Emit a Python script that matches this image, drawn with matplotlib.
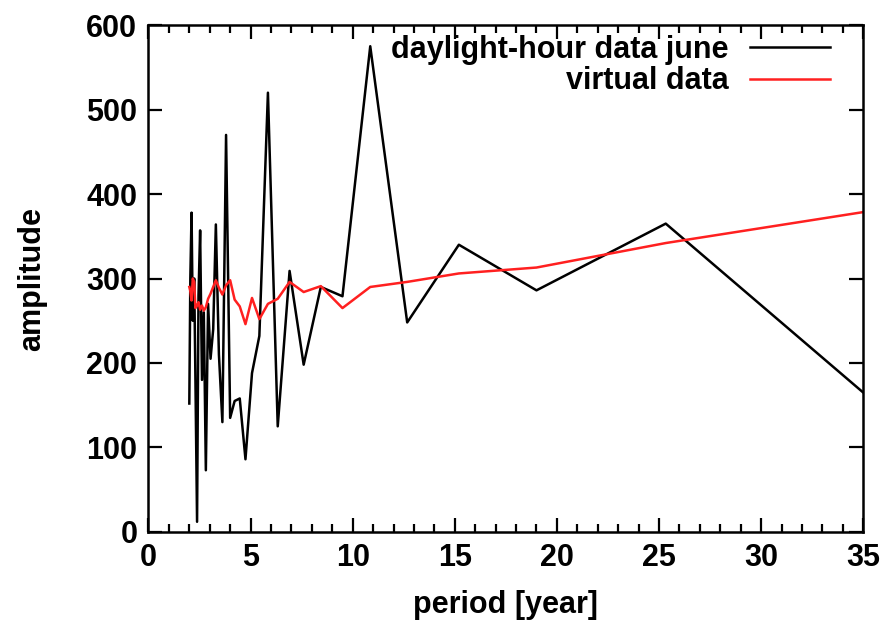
import matplotlib.pyplot as plt
from matplotlib.ticker import MultipleLocator

plt.rcParams['font.family'] = ['Liberation Sans', 'DejaVu Sans']
plt.rcParams['font.weight'] = 'bold'

# periods (years)
period = [2.00, 2.05, 2.11, 2.17, 2.24, 2.30, 2.38, 2.45, 2.53, 2.62,
          2.71, 2.81, 2.92, 3.04, 3.17, 3.30, 3.45, 3.62, 3.80, 4.00,
          4.22, 4.47, 4.75, 5.07, 5.43, 5.85, 6.33, 6.91, 7.60, 8.44,
          9.50, 10.86, 12.67, 15.20, 19.00, 25.33, 38.00]

daylight = [152, 300, 378, 250, 300, 180, 12, 280, 357, 180,
            260, 73, 270, 205, 240, 364, 210, 130, 470, 135,
            155, 158, 86, 188, 232, 520, 125, 309, 198, 290,
            279, 575, 248, 340, 286, 365, 103]

virtual = [290, 285, 274, 300, 296, 265, 268, 272, 263, 268,
           262, 266, 276, 282, 290, 298, 289, 281, 292, 298,
           275, 267, 246, 277, 252, 270, 276, 296, 284, 291,
           265, 290, 296, 306, 313, 342, 390]

fig = plt.figure(figsize=(8.89, 6.28), dpi=100)
ax = fig.add_axes([0.167, 0.153, 0.804, 0.807])

ax.plot(period, daylight, color='black', lw=1.8, label='daylight-hour data june')
ax.plot(period, virtual, color='#ff2020', lw=1.8, label='virtual data')

ax.set_xlim(0, 35)
ax.set_ylim(0, 600)
ax.xaxis.set_major_locator(MultipleLocator(5))
ax.xaxis.set_minor_locator(MultipleLocator(1))
ax.yaxis.set_major_locator(MultipleLocator(100))

ax.tick_params(which='both', direction='in', top=True, right=True, width=1.6)
ax.tick_params(which='major', length=10, labelsize=22, pad=8)
ax.tick_params(which='minor', length=6)
for s in ax.spines.values():
    s.set_linewidth(1.8)

ax.set_xlabel('period [year]', fontsize=22, fontweight='bold', labelpad=12)
ax.set_ylabel('amplitude', fontsize=22, fontweight='bold', labelpad=28)

ax.legend(loc='upper right', frameon=False, markerfirst=False, fontsize=22,
          handlelength=2.6, handletextpad=0.7, borderaxespad=0.0,
          labelspacing=0.05, bbox_to_anchor=(0.97, 1.005))

fig.savefig('out.png', dpi=100)
